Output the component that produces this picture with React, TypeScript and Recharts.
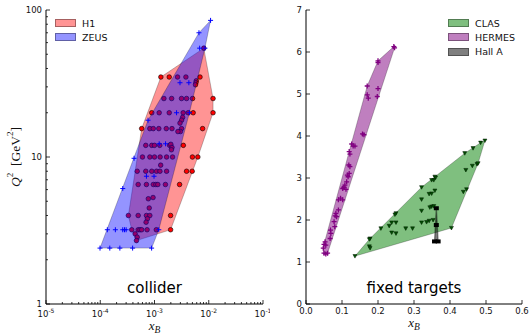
import { ScatterChart, Scatter, XAxis, YAxis, Legend } from 'recharts'

// ---- collider panel (log-log) ----
const H1_X = [
  8.1e-3,
  1.31e-3, 1.87e-3, 2.66e-3, 3.79e-3, 6.9e-3, 5.9e-3, 5.8e-3, 5.7e-3,
  1.49e-3, 2.07e-3, 3.15e-3, 3.9e-3, 5.03e-3, 1.2e-2,
  8.9e-4, 1.22e-3, 1.87e-3, 3.38e-3, 4.18e-3, 5.16e-3, 1.2e-2, 3.3e-3, 3.15e-3, 2.95e-3,
  5.8e-4, 8.2e-4, 9.5e-4, 1.2e-3, 1.65e-3, 2.1e-3, 3.15e-3, 7.7e-3, 3.0e-3, 2.7e-3,
  6.9e-4, 8.9e-4, 1.0e-3, 1.25e-3, 1.9e-3, 2.0e-3, 2.1e-3, 2.05e-3, 3.4e-3,
  6.0e-4, 8.2e-4, 1.0e-3, 1.27e-3, 1.67e-3, 2.15e-3, 5.0e-3, 6.3e-3, 1.3e-3,
  4.8e-4, 6.9e-4, 8.9e-4, 1.09e-3, 1.26e-3, 1.67e-3, 3.9e-3, 4.95e-3,
  5.0e-4, 7.1e-4, 9.5e-4, 1.06e-3, 1.15e-3, 1.59e-3, 2.9e-3,
  7.7e-4, 9.4e-4, 8.0e-4,
  3.3e-4, 5.0e-4, 7.1e-4, 8.2e-4, 1.98e-3, 7.4e-4, 7.0e-4,
  3.8e-4, 5.0e-4, 5.4e-4, 5.8e-4, 7.3e-4, 1.08e-3, 1.98e-3,
  4.4e-4, 4.8e-4, 4.65e-4,
]
const H1_Q2 = [
  55,
  35, 35, 35, 35, 35, 33, 32, 31,
  25, 25, 25, 25, 25, 25,
  20, 20, 20, 20, 20, 20, 20, 18.6, 17.8, 17,
  15.6, 15.6, 15.6, 15.6, 15.6, 15.6, 15.6, 15.6, 14.9, 14.9,
  12, 12, 12, 12, 12, 12.2, 11.6, 11.2, 12,
  10, 10, 10, 10, 10, 10, 10, 10, 8.8,
  8, 8, 8, 8, 8, 8, 8, 8,
  6.5, 6.5, 6.5, 6.5, 6.5, 6.5, 6.5,
  5.2, 5.3, 4.5,
  4, 4, 4, 4, 4, 3.8, 3.6,
  3.2, 3.2, 3.2, 3.2, 3.2, 3.2, 3.2,
  3.0, 2.85, 2.7,
]
const ZEUS_X = [
  1.08e-2, 6.6e-3, 8.5e-3, 6.8e-3, 2.95e-3, 4.3e-3, 2.55e-3, 4.4e-3, 7.6e-4,
  1.22e-3, 1.6e-3, 4.2e-4, 7.1e-4, 9.8e-4, 2.6e-4,
  1.35e-4, 1.9e-4, 2.6e-4, 2.8e-4, 3.0e-4, 1.2e-3,
  9.9e-5, 1.5e-4, 2.3e-4, 3.95e-4, 8.85e-4,
]
const ZEUS_Q2 = [
  85, 70, 55, 55, 32, 32, 20, 20, 17.8,
  12.3, 12.3, 9.8, 7.4, 7.4, 6.1,
  3.2, 3.2, 3.2, 3.2, 3.2, 3.2,
  2.4, 2.4, 2.4, 2.4, 2.4,
]

// ---- fixed target panel (linear) ----
const HERMES_X = [
  0.244, 0.246, 0.2, 0.2, 0.17, 0.17, 0.173, 0.2, 0.198, 0.157, 0.161,
  0.127, 0.131, 0.136, 0.12, 0.122, 0.119, 0.122, 0.12, 0.115, 0.117,
  0.113, 0.108, 0.105, 0.102, 0.111, 0.096, 0.102, 0.09, 0.09, 0.083,
  0.081, 0.085, 0.078, 0.08, 0.068, 0.069, 0.067, 0.053, 0.05, 0.055,
  0.048, 0.05, 0.055, 0.06,
]
const HERMES_Q2 = [
  6.13, 6.1, 5.79, 5.75, 5.19, 4.98, 4.9, 5.13, 4.94, 4.05, 4.03,
  3.81, 3.76, 3.76, 3.63, 3.57, 3.31, 3.27, 3.11, 3.07, 3.03,
  2.91, 2.83, 2.78, 2.75, 2.73, 2.52, 2.48, 2.48, 2.24, 2.16,
  2.1, 2.08, 1.96, 1.84, 1.76, 1.68, 1.56, 1.48, 1.42, 1.4,
  1.33, 1.21, 1.19, 1.21,
]
const CLAS_X = [
  0.497, 0.485, 0.464, 0.441, 0.444, 0.462, 0.475, 0.478, 0.437, 0.446,
  0.358, 0.36, 0.355, 0.349, 0.321, 0.358, 0.349, 0.342, 0.321, 0.349,
  0.355, 0.344, 0.321, 0.353, 0.342, 0.335, 0.321, 0.277, 0.296, 0.404,
  0.25, 0.247, 0.238, 0.25, 0.231, 0.238, 0.25, 0.208, 0.178, 0.176,
  0.176, 0.178, 0.136,
]
const CLAS_Q2 = [
  3.89, 3.84, 3.71, 3.59, 3.19, 3.29, 3.33, 3.35, 2.67, 2.73,
  3.03, 3.01, 2.95, 2.95, 2.78, 2.7, 2.63, 2.62, 2.49, 2.32,
  2.33, 2.3, 2.22, 2.0, 1.98, 1.95, 1.94, 1.8, 1.8, 1.81,
  2.16, 2.13, 1.94, 1.94, 1.86, 1.7, 1.68, 1.8, 1.56, 1.54,
  1.37, 1.33, 1.14,
]
const HALLA_X = [0.362, 0.362, 0.357, 0.367]
const HALLA_Q2 = [2.28, 1.88, 1.49, 1.49]

// ---- ticks ----
const LOG_X_MAJOR = [1e-5, 1e-4, 1e-3, 1e-2, 1e-1]
const LOG_X_EXP = ['-5', '-4', '-3', '-2', '-1']
const LOG_Y_MAJOR = [1, 10, 100]
const LOG_Y_LABELS = ['1', '10', '100']
const MINOR_MULT = [2, 3, 4, 5, 6, 7, 8, 9]
const LIN_X_TICKS = [0, 0.1, 0.2, 0.3, 0.4, 0.5, 0.6]
const LIN_X_LABELS = ['0.0', '0.1', '0.2', '0.3', '0.4', '0.5', '0.6']
const LIN_Y_TICKS = [0, 1, 2, 3, 4, 5, 6, 7]

const withMinors = (majors: number[]) => {
  const out: number[] = []
  majors.forEach((m, i) => {
    out.push(m)
    if (i < majors.length - 1) MINOR_MULT.forEach(k => out.push(m * k))
  })
  return out
}
const LOG_X_TICKS = withMinors(LOG_X_MAJOR)
const LOG_Y_TICKS = withMinors(LOG_Y_MAJOR)

const zip = (xs: number[], ys: number[]) => xs.map((x, i) => ({ x, y: ys[i] }))
const h1Data = zip(H1_X, H1_Q2)
const zeusData = zip(ZEUS_X, ZEUS_Q2)
const hermesData = zip(HERMES_X, HERMES_Q2)
const clasData = zip(CLAS_X, CLAS_Q2)
const hallaData = zip(HALLA_X, HALLA_Q2)

const TICK_FONT = 'DejaVu Sans'
const TICK_SIZE = 8.5

const isDecade = (v: number) => Math.abs(Math.log10(v) - Math.round(Math.log10(v))) < 1e-6

// convex hull (monotone chain) on the pixel points recharts gives the line renderer
function hull(pts: { x: number; y: number }[]) {
  const p = pts.filter(q => q.x != null && q.y != null).slice().sort((a, b) => a.x - b.x || a.y - b.y)
  if (p.length < 3) return p
  const cross = (o: any, a: any, b: any) => (a.x - o.x) * (b.y - o.y) - (a.y - o.y) * (b.x - o.x)
  const lower: any[] = []
  for (const q of p) {
    while (lower.length >= 2 && cross(lower[lower.length - 2], lower[lower.length - 1], q) <= 0) lower.pop()
    lower.push(q)
  }
  const upper: any[] = []
  for (let i = p.length - 1; i >= 0; i--) {
    const q = p[i]
    while (upper.length >= 2 && cross(upper[upper.length - 2], upper[upper.length - 1], q) <= 0) upper.pop()
    upper.push(q)
  }
  return lower.slice(0, -1).concat(upper.slice(0, -1))
}

const hullLine = (color: string, opacity: number, strokeWidth = 0.6) => (props: any) => {
  const h = hull(props.points || [])
  const d = h.map((q, i) => `${i ? 'L' : 'M'}${q.x},${q.y}`).join('') + 'Z'
  return (
    <path d={d} fill={color} fillOpacity={opacity} stroke="#000" strokeOpacity={0.4} strokeWidth={strokeWidth} />
  )
}

// ---- markers ----
const circleShape = (p: any) => (
  <circle cx={p.cx} cy={p.cy} r={2.3} fill="#ff0000" stroke="#000" strokeWidth={0.6} />
)
const plusShape = (color: string, w: number) => (p: any) => (
  <path d={`M${p.cx - 2.5},${p.cy}h5M${p.cx},${p.cy - 2.5}v5`} stroke={color} strokeWidth={w} fill="none" />
)
const triShape = (p: any) => (
  <path
    d={`M${p.cx - 2},${p.cy - 1.6}L${p.cx + 2},${p.cy - 1.6}L${p.cx},${p.cy + 2}Z`}
    fill="#005000"
    stroke="#001a00"
    strokeWidth={0.5}
  />
)
const squareShape = (p: any) => <rect x={p.cx - 2.5} y={p.cy - 2} width={5} height={4} fill="#000" />

// ---- tick renderers (ticks point inward, like matplotlib) ----
const bottomTick = (major: (v: number) => boolean, label: (v: number) => any, dy: number) => (props: any) => {
  const { x, y, payload } = props
  const m = major(payload.value)
  return (
    <g>
      <line x1={x} y1={y} x2={x} y2={y - (m ? 4 : 2)} stroke="#000" strokeWidth={0.8} />
      {m && (
        <text x={x} y={y + dy} textAnchor="middle" fontFamily={TICK_FONT} fontSize={TICK_SIZE} fill="#111">
          {label(payload.value)}
        </text>
      )}
    </g>
  )
}
const topTick = (major: (v: number) => boolean) => (props: any) => {
  const { x, y, payload } = props
  return <line x1={x} y1={y} x2={x} y2={y + (major(payload.value) ? 4 : 2)} stroke="#000" strokeWidth={0.8} />
}
const leftTick = (major: (v: number) => boolean, label: (v: number) => any) => (props: any) => {
  const { x, y, payload } = props
  const m = major(payload.value)
  return (
    <g>
      <line x1={x} y1={y} x2={x + (m ? 4 : 2)} y2={y} stroke="#000" strokeWidth={0.8} />
      {m && (
        <text x={x - 4} y={y + 3} textAnchor="end" fontFamily={TICK_FONT} fontSize={TICK_SIZE} fill="#111">
          {label(payload.value)}
        </text>
      )}
    </g>
  )
}
const rightTick = (major: (v: number) => boolean) => (props: any) => {
  const { x, y, payload } = props
  return <line x1={x} y1={y} x2={x - (major(payload.value) ? 4 : 2)} y2={y} stroke="#000" strokeWidth={0.8} />
}

const logXLabel = (v: number) => (
  <>
    10
    <tspan dy={-4} fontSize={6}>{LOG_X_EXP[LOG_X_MAJOR.findIndex(m => Math.abs(m - v) / m < 1e-6)]}</tspan>
  </>
)
const logYLabel = (v: number) => LOG_Y_LABELS[LOG_Y_MAJOR.findIndex(m => Math.abs(m - v) / m < 1e-6)]
const linXLabel = (v: number) => LIN_X_LABELS[LIN_X_TICKS.findIndex(m => Math.abs(m - v) < 1e-9)]
const always = () => true

const xBLabel = (dy: number) => (props: any) => {
  const vb = props.viewBox
  return (
    <text x={vb.x + vb.width / 2} y={vb.y + dy} textAnchor="middle" fontFamily="Liberation Serif" fontSize={13} fontStyle="italic" fill="#111">
      x<tspan dy={3} fontSize={9.5}>B</tspan>
    </text>
  )
}
const q2Label = (props: any) => {
  const vb = props.viewBox
  const cx = vb.x + 15
  const cy = vb.y + vb.height / 2
  return (
    <text x={cx} y={cy} transform={`rotate(-90, ${cx}, ${cy})`} textAnchor="middle" dominantBaseline="central" fontFamily="Liberation Serif" fontSize={13.5} fill="#111">
      <tspan fontStyle="italic">Q</tspan>
      <tspan dy={-5} fontSize={9}>2</tspan>
      <tspan dy={5}>{'\u00a0\u00a0[GeV'}</tspan>
      <tspan dy={-5} fontSize={9}>2</tspan>
      <tspan dy={5}>]</tspan>
    </text>
  )
}

type LegendItem = { label: string; color: string; opacity: number }
const legendBox = (items: LegendItem[]) => () => (
  <div style={{ fontFamily: TICK_FONT, fontSize: 9.5, color: '#111' }}>
    {items.map(it => (
      <div key={it.label} style={{ display: 'flex', alignItems: 'center', height: 14.3 }}>
        <div style={{ position: 'relative', width: 21, height: 8 }}>
          <div style={{ position: 'absolute', inset: 0, background: it.color, opacity: it.opacity }} />
          <div style={{ position: 'absolute', inset: 0, border: '0.5px solid rgba(0,0,0,0.35)' }} />
        </div>
        <span style={{ marginLeft: 6 }}>{it.label}</span>
      </div>
    ))}
  </div>
)

const LEFT_LEGEND: LegendItem[] = [
  { label: 'H1', color: '#ff0000', opacity: 0.42 },
  { label: 'ZEUS', color: '#0000ff', opacity: 0.42 },
]
const RIGHT_LEGEND: LegendItem[] = [
  { label: 'CLAS', color: '#008000', opacity: 0.5 },
  { label: 'HERMES', color: '#800080', opacity: 0.5 },
  { label: 'Hall A', color: '#000000', opacity: 0.5 },
]

const panelText: React.CSSProperties = {
  position: 'absolute',
  top: 279,
  fontFamily: TICK_FONT,
  fontSize: 15,
  lineHeight: '18px',
  textAlign: 'center',
  color: '#000',
}

export default function App() {
  const axisLine = { stroke: '#000', strokeWidth: 1 }
  return (
    <div style={{ position: 'absolute', left: 0, top: 0, width: 530, height: 335, background: '#fff' }}>
      <div style={{ position: 'absolute', left: 0, top: 0 }}>
        <ScatterChart width={270} height={335} margin={{ top: 10, right: 7, bottom: 0, left: 0 }}>
          <XAxis dataKey="x" type="number" scale="log" domain={[1e-5, 1e-1]} allowDataOverflow ticks={LOG_X_TICKS}
            interval={0} height={31} tickSize={0} tickMargin={0} tickLine={false} axisLine={axisLine}
            tick={bottomTick(isDecade, logXLabel, 13)} label={{ content: xBLabel(26) }} />
          <XAxis xAxisId="top" orientation="top" type="number" scale="log" domain={[1e-5, 1e-1]} allowDataOverflow
            ticks={LOG_X_TICKS} interval={0} height={0} tickSize={0} tickMargin={0} tickLine={false}
            axisLine={axisLine} tick={topTick(isDecade)} />
          <YAxis dataKey="y" type="number" scale="log" domain={[1, 100]} allowDataOverflow ticks={LOG_Y_TICKS}
            interval={0} width={46} tickSize={0} tickMargin={0} tickLine={false} axisLine={axisLine}
            tick={leftTick(isDecade, logYLabel)} label={{ content: q2Label }} />
          <YAxis yAxisId="right" orientation="right" type="number" scale="log" domain={[1, 100]} allowDataOverflow
            ticks={LOG_Y_TICKS} interval={0} width={0} tickSize={0} tickMargin={0} tickLine={false}
            axisLine={axisLine} tick={rightTick(isDecade)} />
          <Scatter name="H1" data={h1Data} fill="#ff0000" isAnimationActive={false}
            line={hullLine('#ff0000', 0.42)} shape={circleShape} />
          <Scatter name="ZEUS" data={zeusData} fill="#0000ff" isAnimationActive={false}
            line={hullLine('#0000ff', 0.42)} shape={plusShape('#0000ff', 1)} />
          <Legend verticalAlign="middle" align="center" layout="horizontal" content={legendBox(LEFT_LEGEND)}
            wrapperStyle={{ top: 16, left: 55, width: 'auto' }} />
        </ScatterChart>
        <div style={{ ...panelText, left: 46, width: 217 }}>collider</div>
      </div>

      <div style={{ position: 'absolute', left: 270, top: 0 }}>
        <ScatterChart width={260} height={335} margin={{ top: 10, right: 8, bottom: 0, left: 0 }}>
          <XAxis dataKey="x" type="number" domain={[0, 0.6]} allowDataOverflow ticks={LIN_X_TICKS}
            interval={0} height={31} tickSize={0} tickMargin={0} tickLine={false} axisLine={axisLine}
            tick={bottomTick(always, linXLabel, 10)} label={{ content: xBLabel(23) }} />
          <XAxis xAxisId="top" orientation="top" type="number" domain={[0, 0.6]} allowDataOverflow
            ticks={LIN_X_TICKS} interval={0} height={0} tickSize={0} tickMargin={0} tickLine={false}
            axisLine={axisLine} tick={topTick(always)} />
          <YAxis dataKey="y" type="number" domain={[0, 7]} allowDataOverflow ticks={LIN_Y_TICKS}
            interval={0} width={36} tickSize={0} tickMargin={0} tickLine={false} axisLine={axisLine}
            tick={leftTick(always, v => String(v))} />
          <YAxis yAxisId="right" orientation="right" type="number" domain={[0, 7]} allowDataOverflow
            ticks={LIN_Y_TICKS} interval={0} width={0} tickSize={0} tickMargin={0} tickLine={false}
            axisLine={axisLine} tick={rightTick(always)} />
          <Scatter name="HERMES" data={hermesData} fill="#800080" isAnimationActive={false}
            line={hullLine('#800080', 0.5)} shape={plusShape('#800080', 1.3)} />
          <Scatter name="CLAS" data={clasData} fill="#008000" isAnimationActive={false}
            line={hullLine('#008000', 0.5)} shape={triShape} />
          <Scatter name="Hall A" data={hallaData} fill="#000" isAnimationActive={false}
            line={hullLine('#000000', 0.5, 1.4)} shape={squareShape} />
          <Legend verticalAlign="middle" align="center" layout="horizontal" content={legendBox(RIGHT_LEGEND)}
            wrapperStyle={{ top: 16, left: 178, width: 'auto' }} />
        </ScatterChart>
        <div style={{ ...panelText, left: 36, width: 216 }}>fixed targets</div>
      </div>
    </div>
  )
}
